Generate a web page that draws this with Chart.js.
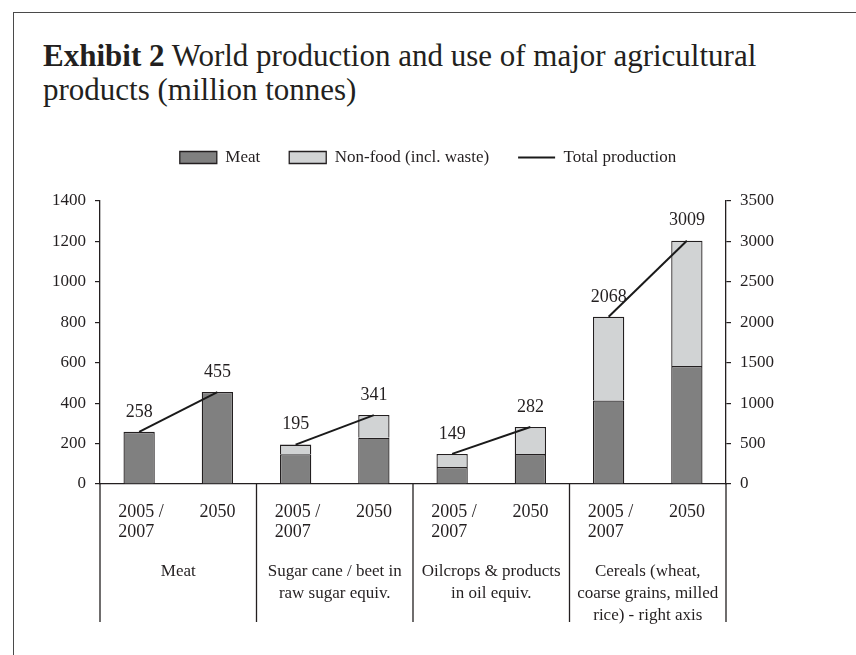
<!DOCTYPE html>
<html>
<head>
<meta charset="utf-8">
<title>Exhibit 2</title>
<script src="https://cdn.jsdelivr.net/npm/chart.js@4"></script>
<style>
    html, body { margin: 0; padding: 0; background: #fff; overflow: hidden; }
    body { width: 856px; height: 655px; position: relative; font-family: 'Liberation Serif', serif; color: #231f20; }
    .frame { position: absolute; left: 13px; top: 12px; width: 900px; height: 700px; border: 1.5px solid #4a4a4a; }
    h1 { position: absolute; left: 43px; top: 39px; margin: 0; font-size: 31px; line-height: 34px; font-weight: normal; white-space: nowrap; }
    .chart-box { position: absolute; left: 0; top: 120px; width: 856px; height: 535px; }
</style>
</head>
<body>
<div class="frame"></div>
<h1><b>Exhibit 2</b> World production and use of major agricultural<br>products (million tonnes)</h1>
<div class="chart-box"><canvas id="prodChart"></canvas></div>

<script>
// Data (million tonnes)
const groupLabels = [
    ['Meat'],
    ['Sugar cane / beet in', 'raw sugar equiv.'],
    ['Oilcrops & products', 'in oil equiv.'],
    ['Cereals (wheat,', 'coarse grains, milled', 'rice) - right axis']
];
const periodLabels = [['2005 /', '2007'], ['2050']];
const categories = ['Meat 2005/07', 'Meat 2050', 'Sugar 2005/07', 'Sugar 2050',
                    'Oilcrops 2005/07', 'Oilcrops 2050', 'Cereals 2005/07', 'Cereals 2050'];
const foodUse = [258, 455, 147, 229, 84, 148, 1034, 1460];
const nonFoodUse = [0, 0, 48, 112, 65, 134, 1034, 1549];
const totalProduction = [258, 455, 195, 341, 149, 282, 2068, 3009];
const rightAxisGroups = [3];   // cereals are read on the right axis

const textColor = '#231f20';
const fontFamily = "'Liberation Serif', 'Times New Roman', serif";

Chart.defaults.font.family = fontFamily;
Chart.defaults.color = textColor;

function groupOf(i) { return Math.floor(i / 2); }
function isRight(i) { return rightAxisGroups.includes(groupOf(i)); }

// keep only the values that belong to one axis
function forAxis(values, right) {
    return values.map((v, i) => (isRight(i) === right ? v : null));
}

function barSet(label, values, right, color, inLegend) {
    return {
        type: 'bar',
        label: label,
        data: forAxis(values, right),
        yAxisID: right ? 'y1' : 'y',
        stack: 'bars',
        backgroundColor: color,
        borderColor: textColor,
        borderWidth: 1.3,
        barPercentage: 0.4,
        categoryPercentage: 1,
        pointStyle: 'rect',
        inLegend: inLegend
    };
}

const datasets = [
    barSet('Meat', foodUse, false, '#808080', true),
    barSet('Non-food (incl. waste)', nonFoodUse, false, '#d1d3d4', true),
    barSet('Meat', foodUse, true, '#808080', false),
    barSet('Non-food (incl. waste)', nonFoodUse, true, '#d1d3d4', false)
];

// one short line per product group, from the first period to 2050
groupLabels.forEach((g, gi) => {
    datasets.push({
        type: 'line',
        label: 'Total production',
        data: totalProduction.map((v, i) => (groupOf(i) === gi ? v : null)),
        yAxisID: rightAxisGroups.includes(gi) ? 'y1' : 'y',
        stack: 'line' + gi,
        borderColor: '#1a1a1a',
        borderWidth: 2,
        pointRadius: 0,
        pointStyle: 'line',
        order: -1,
        inLegend: gi === 0
    });
});

// more room between legend and plot
const legendGap = {
    id: 'legendGap',
    beforeInit(chart) {
        const fit = chart.legend.fit;
        chart.legend.fit = function() {
            fit.call(this);
            this.height += 25;
        };
    }
};

// value labels, category labels and the group separators
const annotations = {
    id: 'annotations',
    afterDatasetsDraw(chart) {
        const ctx = chart.ctx;
        const x = chart.scales.x;
        const area = chart.chartArea;
        const bottom = area.bottom;

        ctx.save();
        ctx.fillStyle = textColor;
        ctx.textBaseline = 'middle';

        // totals above each line end
        ctx.font = '18px ' + fontFamily;
        ctx.textAlign = 'center';
        chart.data.datasets.forEach((ds, di) => {
            if (ds.type !== 'line') return;
            chart.getDatasetMeta(di).data.forEach((pt, i) => {
                if (ds.data[i] == null) return;
                ctx.fillText(String(ds.data[i]), pt.x, pt.y - 20);
            });
        });

        // period labels
        categories.forEach((c, i) => {
            const cx = x.getPixelForValue(i);
            const lines = periodLabels[i % 2];
            if (lines.length > 1) {
                ctx.textAlign = 'left';
                lines.forEach((t, li) => ctx.fillText(t, cx - 21, bottom + 28.5 + li * 20));
            } else {
                ctx.textAlign = 'center';
                ctx.fillText(lines[0], cx, bottom + 28.5);
            }
        });

        // group labels
        ctx.font = '17px ' + fontFamily;
        ctx.textAlign = 'center';
        groupLabels.forEach((lines, gi) => {
            const gx = (x.getPixelForValue(gi * 2) + x.getPixelForValue(gi * 2 + 1)) / 2;
            lines.forEach((t, li) => ctx.fillText(t, gx, bottom + 88 + li * 21.7));
        });

        // separators between the groups, down through the label block
        ctx.strokeStyle = textColor;
        ctx.lineWidth = 1.3;
        for (let b = 0; b <= groupLabels.length; b++) {
            let sx;
            if (b === 0) sx = area.left;
            else if (b === groupLabels.length) sx = area.right;
            else sx = (x.getPixelForValue(b * 2 - 1) + x.getPixelForValue(b * 2)) / 2;
            ctx.beginPath();
            ctx.moveTo(sx, bottom);
            ctx.lineTo(sx, bottom + 138);
            ctx.stroke();
        }
        ctx.restore();
    }
};

const plainNumber = (v) => String(v);

const ctx = document.getElementById('prodChart');
new Chart(ctx, {
    data: { labels: categories, datasets: datasets },
    plugins: [legendGap, annotations],
    options: {
        responsive: true,
        maintainAspectRatio: false,
        animation: false,
        layout: { padding: 0 },
        plugins: {
            tooltip: { enabled: false },
            legend: {
                position: 'top',
                labels: {
                    usePointStyle: true,
                    pointStyleWidth: 37,
                    boxHeight: 12,
                    padding: 29,
                    color: textColor,
                    font: { size: 17 },
                    filter: (item, data) => data.datasets[item.datasetIndex].inLegend,
                    sort: (a, b) => a.datasetIndex - b.datasetIndex
                }
            }
        },
        scales: {
            x: {
                stacked: true,
                grid: { drawOnChartArea: false, drawTicks: false },
                ticks: { display: false },
                border: { color: textColor, width: 1.3 },
                afterFit: (s) => { s.height = 171; }
            },
            y: {
                position: 'left',
                stacked: true,
                min: 0,
                max: 1400,
                ticks: { stepSize: 200, padding: 9, font: { size: 17 }, color: textColor, callback: plainNumber },
                grid: { drawOnChartArea: false, tickLength: 5, color: textColor, lineWidth: 1.2 },
                border: { color: textColor, width: 1.3 },
                afterFit: (s) => { s.width = 100; }
            },
            y1: {
                position: 'right',
                stacked: true,
                min: 0,
                max: 3500,
                ticks: { stepSize: 500, padding: 9, font: { size: 17 }, color: textColor, callback: plainNumber },
                grid: { drawOnChartArea: false, tickLength: 5, color: textColor, lineWidth: 1.2 },
                border: { color: textColor, width: 1.3 },
                afterFit: (s) => { s.width = 130; }
            }
        }
    }
});
</script>
</body>
</html>
